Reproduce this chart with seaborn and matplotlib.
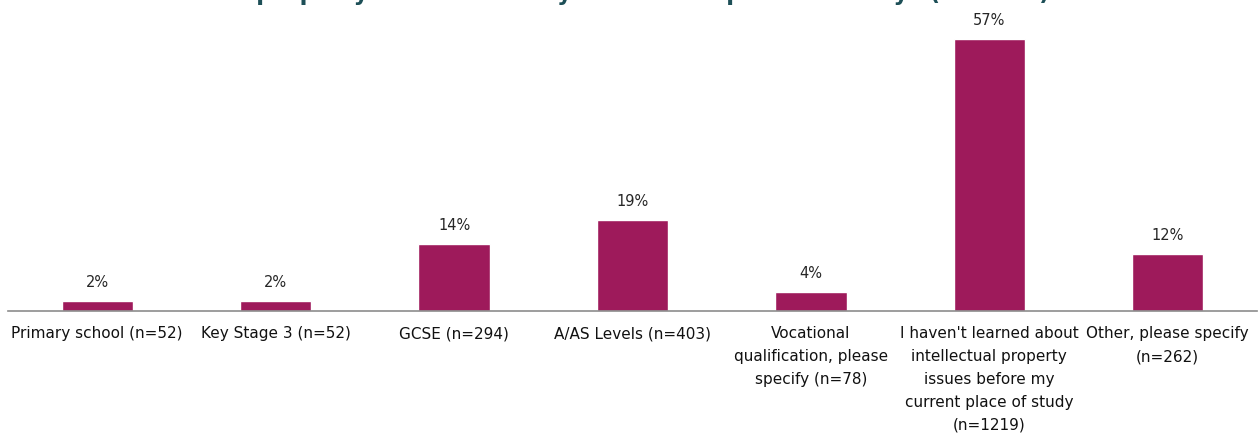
import pandas as pd
import matplotlib
matplotlib.use("Agg")
import matplotlib.pyplot as plt
import seaborn as sns

# data
categories = [
    "Primary school (n=52)",
    "Key Stage 3 (n=52)",
    "GCSE (n=294)",
    "A/AS Levels (n=403)",
    "Vocational\nqualification, please\nspecify (n=78)",
    "I haven't learned about\nintellectual property\nissues before my\ncurrent place of study\n(n=1219)",
    "Other, please specify\n(n=262)",
]
percent = [2, 2, 14, 19, 4, 57, 12]

title_text = ("At what stage did you learn about\n"
              "intellectual property issues before your current place of study? (n=2134)")

bar_color = "#9E1A5B"


def plot_chart():
    df = pd.DataFrame({"category": categories, "percent": percent})

    sns.set_style("white")
    plt.rcParams["font.family"] = ["DejaVu Sans"]

    fig = plt.figure(figsize=(12.59, 4.36), dpi=100)
    ax = fig.add_axes([8 / 1259, 125 / 436, 1249 / 1259, 291 / 436])

    sns.barplot(data=df, x="category", y="percent", color=bar_color,
                width=0.4, saturation=1, ax=ax)

    ax.bar_label(ax.containers[0], fmt="%d%%", padding=8, fontsize=10.5,
                 color="#262626")

    ax.set_ylim(0, 61)
    ax.set_xlim(-0.5, len(categories) - 0.5)
    ax.set_yticks([])
    ax.set_xlabel("")
    ax.set_ylabel("")

    for side in ["top", "right", "left"]:
        ax.spines[side].set_visible(False)
    ax.spines["bottom"].set_color("#8c8c8c")
    ax.spines["bottom"].set_linewidth(1.2)

    # labels without ticks, small ticks between categories
    ax.tick_params(axis="x", which="major", length=0, pad=11,
                   labelsize=11, labelcolor="#111111")
    ax.set_xticks([i - 0.5 for i in range(len(categories) + 1)], minor=True)
    ax.tick_params(axis="x", which="minor", length=6, color="#8c8c8c",
                   width=1)
    for lbl in ax.get_xticklabels():
        lbl.set_linespacing(1.65)

    # two-line title sits above the picture, only the descenders of its
    # second line show (as in the source image)
    fig.text(0.458, 1 - 5 / 436, title_text, ha="center", va="bottom",
             multialignment="center", fontsize=16.5, fontweight="bold",
             color="#1D4F57")

    fig.savefig("out.png", dpi=100)


if __name__ == "__main__":
    plot_chart()
